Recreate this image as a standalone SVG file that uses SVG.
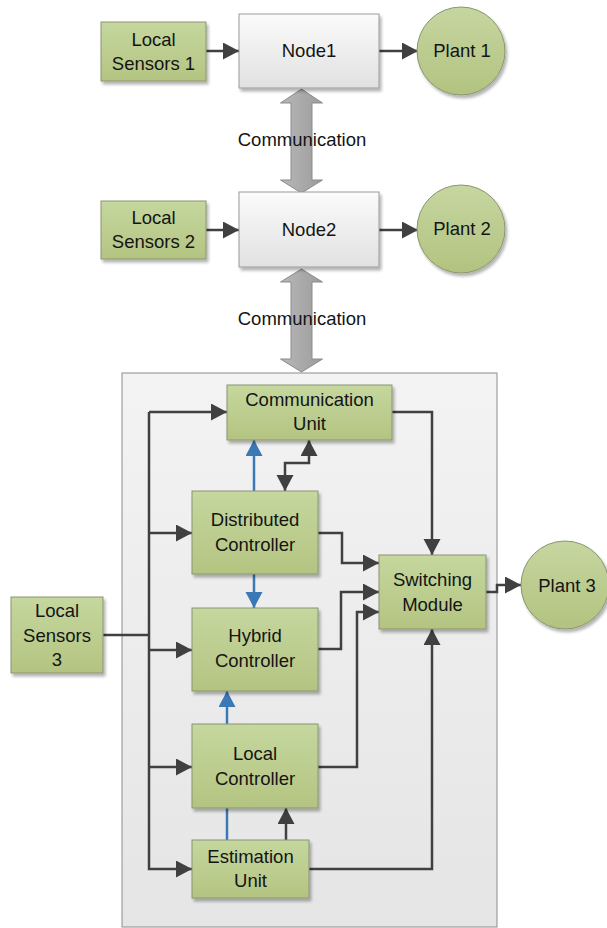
<svg xmlns="http://www.w3.org/2000/svg" width="607" height="928" viewBox="0 0 607 928">
  <defs>
    <linearGradient id="green" x1="0" y1="0" x2="0" y2="1">
      <stop offset="0" stop-color="#c6d79f"/>
      <stop offset="1" stop-color="#b3c481"/>
    </linearGradient>
    <linearGradient id="greenRound" x1="0" y1="0" x2="0" y2="1">
      <stop offset="0" stop-color="#c6d6a0"/>
      <stop offset="1" stop-color="#b2c380"/>
    </linearGradient>
    <linearGradient id="silver" x1="0" y1="0" x2="0" y2="1">
      <stop offset="0" stop-color="#fbfbfb"/>
      <stop offset="1" stop-color="#e1e1e1"/>
    </linearGradient>
    <linearGradient id="panel" x1="0" y1="0" x2="0" y2="1">
      <stop offset="0" stop-color="#f3f3f3"/>
      <stop offset="1" stop-color="#e5e5e5"/>
    </linearGradient>
    <linearGradient id="pipe" x1="0" y1="0" x2="1" y2="0">
      <stop offset="0" stop-color="#b8b8b8"/>
      <stop offset="1" stop-color="#9c9c9c"/>
    </linearGradient>
    <filter id="shadow" x="-10%" y="-10%" width="125%" height="125%">
      <feGaussianBlur in="SourceAlpha" stdDeviation="1.5"/>
      <feOffset dx="2" dy="2.5" result="b"/>
      <feComponentTransfer><feFuncA type="linear" slope="0.3"/></feComponentTransfer>
      <feMerge><feMergeNode/><feMergeNode in="SourceGraphic"/></feMerge>
    </filter>
    <marker id="ah" markerUnits="userSpaceOnUse" markerWidth="17" markerHeight="18" refX="16" refY="8.5" orient="auto-start-reverse">
      <path d="M0,0 L16,8.5 L0,17 z" fill="#404040"/>
    </marker>
    <marker id="ahBlue" markerUnits="userSpaceOnUse" markerWidth="17" markerHeight="18" refX="16" refY="8.5" orient="auto">
      <path d="M0,0 L16,8.5 L0,17 z" fill="#3a78b6"/>
    </marker>
    <style>
      .box { fill: url(#green); stroke: #8a9470; stroke-width: 1; filter: url(#shadow); }
      .plant { fill: url(#greenRound); stroke: #8a9470; stroke-width: 1; filter: url(#shadow); }
      .node { fill: url(#silver); stroke: #9a9a9a; stroke-width: 1; filter: url(#shadow); }
      .panel { fill: url(#panel); stroke: #8c8c8c; stroke-width: 1; }
      .pipe { fill: url(#pipe); stroke: #8a8a8a; stroke-width: 1; }
      text { font-family: "Liberation Sans", Arial, sans-serif; font-size: 18.5px; fill: #141414; text-anchor: middle; }
      .wire { fill: none; stroke: #404040; stroke-width: 2.5; }
      .arrow { marker-end: url(#ah); }
      .blue { fill: none; stroke: #3a78b6; stroke-width: 2.5; }
    </style>
  </defs>

  <!-- enclosing panel of node 3 -->
  <rect id="node3-panel" class="panel" x="122" y="373" width="375" height="554"/>

  <!-- network links between nodes -->
  <g id="links">
    <polygon class="pipe" points="301.5,89 322.5,103 312,103 312,180 322.5,180 301.5,193 280.5,180 291,180 291,103 280.5,103"/>
    <polygon class="pipe" points="301.5,269 322.5,282 312,282 312,359 322.5,359 301.5,372 280.5,359 291,359 291,282 280.5,282"/>
    <text x="302" y="146">Communication</text>
    <text x="302" y="325">Communication</text>
  </g>

  <!-- connectors -->
  <g id="connectors">
    <path class="wire arrow" d="M206,51 H239"/>
    <path class="wire arrow" d="M379,51 H418"/>
    <path class="wire arrow" d="M206,230 H239"/>
    <path class="wire arrow" d="M379,230 H418"/>

    <path class="wire" d="M103,635 H149"/>
    <path class="wire arrow" d="M149,412 H227"/>
    <path class="wire arrow" d="M149,412 V869 H192"/>
    <path class="wire arrow" d="M149,533 H192"/>
    <path class="wire arrow" d="M149,650 H192"/>
    <path class="wire arrow" d="M149,767 H192"/>

    <path class="wire arrow" d="M392,412 H432 V555"/>
    <path class="wire arrow" d="M318,533 H342 V563 H379"/>
    <path class="wire arrow" d="M318,649 H341 V592 H379"/>
    <path class="wire arrow" d="M318,767 H357 V612 H379"/>
    <path class="wire arrow" d="M309,869 H432 V629"/>
    <path class="wire arrow" d="M486,592 H497 V585 H521"/>

    <path class="wire arrow" d="M286,840 V808"/>
    <path class="wire arrow" d="M285,491 V463 H309 V440" marker-start="url(#ah)"/>

    <path class="blue" d="M254,491 V440" marker-end="url(#ahBlue)"/>
    <path class="blue" d="M254,574 V608" marker-end="url(#ahBlue)"/>
    <path class="blue" d="M227,724 V691" marker-end="url(#ahBlue)"/>
    <path class="blue" d="M227,840 V808"/>
  </g>

  <g id="sensors1">
    <rect class="box" x="101" y="22" width="105" height="59"/>
    <text x="153.5" y="46">Local</text>
    <text x="153.5" y="70">Sensors 1</text>
  </g>
  <g id="node1">
    <rect class="node" x="239" y="14" width="140" height="74"/>
    <text x="309" y="57">Node1</text>
  </g>
  <g id="plant1">
    <circle class="plant" cx="461" cy="51" r="44"/>
    <text x="462" y="57">Plant 1</text>
  </g>

  <g id="sensors2">
    <rect class="box" x="101" y="201" width="105" height="58"/>
    <text x="153.5" y="224">Local</text>
    <text x="153.5" y="248">Sensors 2</text>
  </g>
  <g id="node2">
    <rect class="node" x="239" y="192" width="140" height="75"/>
    <text x="309" y="236">Node2</text>
  </g>
  <g id="plant2">
    <circle class="plant" cx="461" cy="229" r="44"/>
    <text x="462" y="235">Plant 2</text>
  </g>

  <g id="comm-unit">
    <rect class="box" x="227" y="385" width="165" height="55"/>
    <text x="309.5" y="406">Communication</text>
    <text x="309.5" y="430">Unit</text>
  </g>
  <g id="distributed-controller">
    <rect class="box" x="192" y="491" width="126" height="83"/>
    <text x="255" y="526">Distributed</text>
    <text x="255" y="551">Controller</text>
  </g>
  <g id="hybrid-controller">
    <rect class="box" x="192" y="608" width="126" height="83"/>
    <text x="255" y="642">Hybrid</text>
    <text x="255" y="667">Controller</text>
  </g>
  <g id="local-controller">
    <rect class="box" x="192" y="724" width="126" height="84"/>
    <text x="255" y="760">Local</text>
    <text x="255" y="785">Controller</text>
  </g>
  <g id="estimation-unit">
    <rect class="box" x="192" y="840" width="117" height="58"/>
    <text x="250.5" y="863">Estimation</text>
    <text x="250.5" y="887">Unit</text>
  </g>
  <g id="switching-module">
    <rect class="box" x="379" y="555" width="107" height="74"/>
    <text x="432.5" y="586">Switching</text>
    <text x="432.5" y="611">Module</text>
  </g>
  <g id="sensors3">
    <rect class="box" x="11" y="597" width="92" height="76"/>
    <text x="57" y="617">Local</text>
    <text x="57" y="642">Sensors</text>
    <text x="57" y="666">3</text>
  </g>
  <g id="plant3">
    <circle class="plant" cx="565" cy="585" r="44"/>
    <text x="567" y="592">Plant 3</text>
  </g>
</svg>
